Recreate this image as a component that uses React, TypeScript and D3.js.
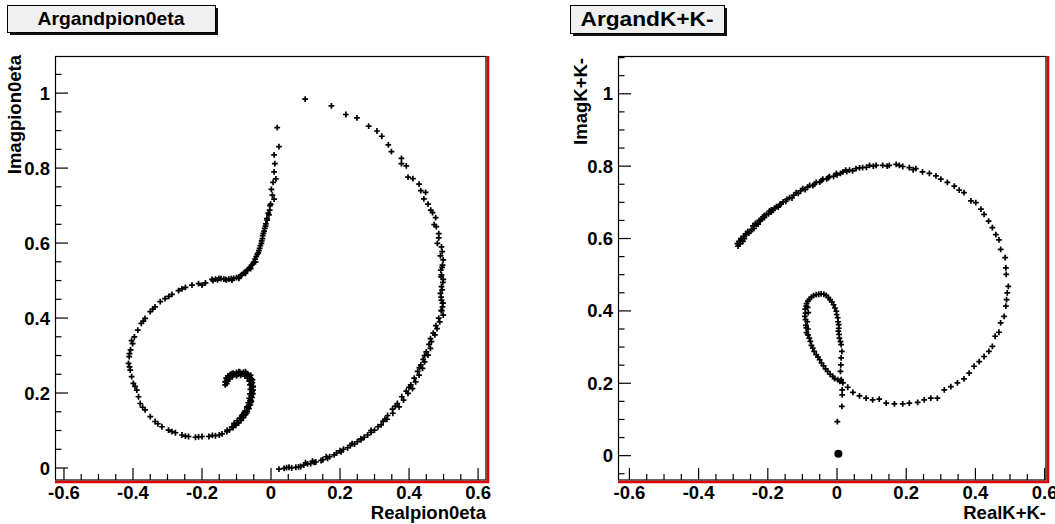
import React from "react";
import * as d3 from "d3";

type Pt = [number, number];

// ---------- Argand pion0 eta (left) ----------
const pionOuterArc: Pt[] = [
  [0.099, 0.984], [0.175, 0.966], [0.217, 0.943], [0.249, 0.934], [0.283, 0.912], [0.307, 0.899],
  [0.321, 0.885], [0.34, 0.862], [0.349, 0.844], [0.378, 0.826], [0.378, 0.812], [0.392, 0.806],
  [0.397, 0.776], [0.411, 0.772], [0.429, 0.757], [0.434, 0.74], [0.448, 0.735], [0.443, 0.718],
  [0.455, 0.704], [0.463, 0.688], [0.468, 0.681], [0.477, 0.668], [0.473, 0.649], [0.479, 0.644],
  [0.486, 0.625], [0.486, 0.614], [0.482, 0.599], [0.494, 0.59], [0.496, 0.577], [0.491, 0.566],
  [0.499, 0.555], [0.497, 0.541], [0.492, 0.528], [0.494, 0.515], [0.499, 0.503], [0.496, 0.535],
  [0.493, 0.51], [0.498, 0.495], [0.494, 0.484], [0.496, 0.475], [0.491, 0.466], [0.493, 0.456],
  [0.494, 0.448], [0.498, 0.44], [0.497, 0.43], [0.495, 0.42], [0.499, 0.408], [0.489, 0.39],
  [0.481, 0.372], [0.475, 0.355], [0.465, 0.337], [0.462, 0.319], [0.455, 0.301], [0.445, 0.283],
  [0.439, 0.266], [0.429, 0.248], [0.419, 0.23], [0.41, 0.212], [0.397, 0.199], [0.384, 0.181],
  [0.371, 0.163], [0.353, 0.146], [0.336, 0.13], [0.319, 0.115], [0.3, 0.101], [0.28, 0.088],
  [0.261, 0.075], [0.242, 0.064], [0.222, 0.054], [0.203, 0.043], [0.183, 0.035], [0.164, 0.026],
  [0.145, 0.02], [0.125, 0.015], [0.106, 0.011], [0.086, 0.004], [0.072, 0.002], [0.052, 0.002],
  [0.038, -0.001], [0.023, -0.003],
];
const pionOuterArcDense: Pt[] = [
  [0.497, 0.44], [0.493, 0.42], [0.486, 0.4], [0.478, 0.38], [0.47, 0.36], [0.462, 0.345],
  [0.458, 0.33], [0.45, 0.31], [0.441, 0.29], [0.434, 0.275], [0.425, 0.258], [0.415, 0.24],
  [0.405, 0.222], [0.392, 0.205], [0.379, 0.19], [0.366, 0.172], [0.352, 0.157], [0.338, 0.14],
  [0.325, 0.125], [0.31, 0.11], [0.29, 0.095], [0.27, 0.082], [0.25, 0.07], [0.23, 0.06],
  [0.21, 0.05], [0.19, 0.04], [0.17, 0.03], [0.15, 0.022], [0.13, 0.016], [0.115, 0.012],
  [0.095, 0.008], [0.08, 0.003], [0.06, 0.0], [0.045, 0.001], [0.445, 0.3], [0.43, 0.268],
  [0.4, 0.215], [0.36, 0.165], [0.33, 0.13], [0.29, 0.1], [0.26, 0.078], [0.235, 0.065],
  [0.2, 0.046], [0.16, 0.03], [0.12, 0.018], [0.1, 0.014],
];
const pionInnerBranch: Pt[] = [
  [0.018, 0.908], [0.023, 0.857], [0.009, 0.835], [0.011, 0.812], [0.009, 0.79], [0.014, 0.771],
  [0.006, 0.762], [0.001, 0.743], [0.004, 0.728], [0.009, 0.717], [-0.001, 0.704], [-0.004, 0.688],
  [-0.006, 0.675], [-0.011, 0.661], [-0.015, 0.651], [-0.018, 0.639], [-0.022, 0.626], [-0.025, 0.612],
  [-0.028, 0.599], [-0.033, 0.586], [-0.037, 0.574], [-0.043, 0.564], [-0.049, 0.55], [-0.056, 0.541],
  [-0.064, 0.532], [-0.074, 0.524], [-0.084, 0.516], [-0.093, 0.51], [-0.108, 0.506], [-0.122, 0.504],
  [-0.137, 0.504], [-0.161, 0.504], [-0.003, 0.7], [-0.008, 0.68], [-0.012, 0.665], [-0.016, 0.645],
  [-0.02, 0.632], [-0.024, 0.62], [-0.027, 0.606], [-0.031, 0.593], [-0.035, 0.58], [-0.04, 0.57],
  [-0.046, 0.557], [-0.052, 0.546], [-0.06, 0.536], [-0.069, 0.528], [-0.079, 0.52], [-0.088, 0.513],
  [-0.1, 0.508], [-0.115, 0.505], [-0.129, 0.502], [-0.145, 0.505], [-0.155, 0.502], [-0.168, 0.5],
  [-0.045, 0.55], [-0.059, 0.532], [-0.074, 0.519], [-0.093, 0.506], [-0.113, 0.501], [-0.132, 0.503],
  [-0.151, 0.506],
];
const pionLeftArc: Pt[] = [
  [-0.171, 0.503], [-0.19, 0.494], [-0.21, 0.492], [-0.229, 0.488], [-0.248, 0.482], [-0.268, 0.473],
  [-0.287, 0.463], [-0.307, 0.452], [-0.321, 0.444], [-0.336, 0.43], [-0.35, 0.417], [-0.365, 0.399],
  [-0.376, 0.386], [-0.386, 0.368], [-0.396, 0.35], [-0.401, 0.332], [-0.407, 0.315], [-0.411, 0.297],
  [-0.413, 0.279], [-0.408, 0.261], [-0.404, 0.244], [-0.399, 0.226], [-0.389, 0.208], [-0.384, 0.19],
  [-0.379, 0.172], [-0.365, 0.155], [-0.35, 0.137], [-0.336, 0.124], [-0.316, 0.11], [-0.297, 0.101],
  [-0.277, 0.094], [-0.258, 0.088], [-0.239, 0.084], [-0.219, 0.082], [-0.2, 0.084], [-0.18, 0.084],
  [-0.161, 0.086], [-0.142, 0.091], [-0.127, 0.101], [-0.113, 0.11], [-0.098, 0.119], [-0.088, 0.132],
  [-0.079, 0.146], [-0.069, 0.163], [-0.059, 0.181], [-0.054, 0.199], [-0.052, 0.217], [-0.054, 0.235],
  [-0.059, 0.248], [-0.074, 0.257], [-0.093, 0.257], [-0.113, 0.252], [-0.127, 0.239], [-0.132, 0.23],
  [-0.2, 0.488], [-0.258, 0.478], [-0.296, 0.458], [-0.343, 0.424], [-0.37, 0.392], [-0.404, 0.34],
  [-0.41, 0.305], [-0.41, 0.27], [-0.394, 0.218], [-0.372, 0.162], [-0.328, 0.118], [-0.287, 0.097],
  [-0.248, 0.085], [-0.21, 0.083], [-0.17, 0.087], [-0.15, 0.088],
];
const pionHook: Pt[] = [
  [-0.132, 0.23], [-0.13, 0.24], [-0.125, 0.246], [-0.118, 0.25], [-0.11, 0.253], [-0.1, 0.255],
  [-0.09, 0.256], [-0.08, 0.255], [-0.07, 0.252], [-0.062, 0.246], [-0.057, 0.238], [-0.054, 0.228],
  [-0.052, 0.218], [-0.052, 0.208], [-0.053, 0.198], [-0.055, 0.188], [-0.057, 0.178], [-0.06, 0.168],
  [-0.064, 0.158], [-0.069, 0.15], [-0.074, 0.142], [-0.08, 0.134], [-0.087, 0.127], [-0.094, 0.12],
  [-0.102, 0.114], [-0.11, 0.108], [-0.12, 0.102], [-0.128, 0.097], [-0.128, 0.225], [-0.122, 0.238],
  [-0.112, 0.243], [-0.1, 0.246], [-0.088, 0.247], [-0.076, 0.245], [-0.068, 0.24], [-0.063, 0.232],
  [-0.061, 0.222], [-0.06, 0.21], [-0.061, 0.198], [-0.063, 0.186], [-0.066, 0.174], [-0.07, 0.162],
  [-0.076, 0.152], [-0.083, 0.142], [-0.09, 0.133], [-0.098, 0.126], [-0.107, 0.119], [-0.125, 0.232],
  [-0.115, 0.247], [-0.095, 0.25], [-0.075, 0.25], [-0.058, 0.232], [-0.056, 0.215], [-0.057, 0.192],
  [-0.06, 0.18], [-0.066, 0.165], [-0.075, 0.148], [-0.085, 0.138], [-0.133, 0.222], [-0.129, 0.233],
  [-0.121, 0.242], [-0.105, 0.251], [-0.085, 0.252], [-0.066, 0.249], [-0.057, 0.224], [-0.055, 0.204],
  [-0.059, 0.174], [-0.071, 0.146],
];

// ---------- Argand K+ K- (right) ----------
const kkUpperArc: Pt[] = [
  [-0.286, 0.579], [-0.276, 0.598], [-0.262, 0.611], [-0.247, 0.625], [-0.233, 0.639], [-0.218, 0.653],
  [-0.204, 0.667], [-0.19, 0.679], [-0.175, 0.688], [-0.156, 0.701], [-0.137, 0.713], [-0.118, 0.727],
  [-0.099, 0.738], [-0.079, 0.747], [-0.06, 0.755], [-0.041, 0.764], [-0.022, 0.771], [-0.002, 0.78],
  [0.017, 0.784], [0.036, 0.789], [0.055, 0.793], [0.074, 0.796], [0.094, 0.802], [0.113, 0.802],
  [0.132, 0.802], [0.151, 0.802], [0.171, 0.805], [0.19, 0.799], [0.209, 0.796], [0.228, 0.793],
  [0.247, 0.784], [0.267, 0.78], [0.286, 0.773], [0.3, 0.764], [0.319, 0.755], [0.339, 0.745],
  [0.353, 0.734], [0.367, 0.727], [0.387, 0.704], [0.401, 0.699], [0.416, 0.681], [0.425, 0.667],
  [0.438, 0.648], [0.449, 0.63], [0.459, 0.611], [0.468, 0.596], [0.473, 0.57], [0.486, 0.547],
  [0.488, 0.519], [0.489, 0.501], [0.495, 0.468], [0.492, 0.45], [0.49, 0.431], [0.488, 0.413],
  [0.483, 0.385], [0.473, 0.367], [0.468, 0.341], [0.457, 0.33], [0.449, 0.302], [0.439, 0.288],
  [0.425, 0.274], [0.411, 0.26], [0.396, 0.247], [0.382, 0.228], [0.367, 0.212], [0.348, 0.201],
  [0.329, 0.191], [0.31, 0.182], [0.29, 0.159], [0.271, 0.159], [0.252, 0.154], [0.233, 0.147],
  [0.209, 0.145], [0.19, 0.143], [0.166, 0.143], [0.142, 0.145], [0.122, 0.156], [0.103, 0.154],
  [0.084, 0.159], [0.065, 0.165], [0.046, 0.175], [0.031, 0.189], [0.017, 0.201],
];
const kkUpperArcDense: Pt[] = [
  [-0.28, 0.585], [-0.272, 0.592], [-0.268, 0.6], [-0.255, 0.615], [-0.25, 0.62], [-0.24, 0.628],
  [-0.228, 0.64], [-0.222, 0.648], [-0.21, 0.658], [-0.198, 0.668], [-0.185, 0.678], [-0.17, 0.687],
  [-0.162, 0.695], [-0.148, 0.703], [-0.13, 0.712], [-0.112, 0.725], [-0.092, 0.735], [-0.07, 0.746],
  [-0.05, 0.756], [-0.03, 0.765], [-0.01, 0.772], [0.01, 0.78], [0.028, 0.785], [0.045, 0.787],
  [0.065, 0.795], [0.085, 0.797], [-0.283, 0.592], [-0.27, 0.606], [-0.258, 0.62], [-0.243, 0.635],
  [-0.225, 0.65], [-0.21, 0.664], [-0.195, 0.676], [-0.18, 0.684], [-0.165, 0.694], [-0.145, 0.708],
  [-0.125, 0.72], [-0.105, 0.732], [-0.085, 0.742], [-0.065, 0.75], [-0.045, 0.76], [-0.025, 0.768],
  [0.0, 0.776], [0.025, 0.789], [0.105, 0.8], [0.145, 0.8], [0.18, 0.802], [0.22, 0.79],
  [-0.288, 0.586], [-0.278, 0.6], [-0.264, 0.613], [-0.236, 0.642], [-0.214, 0.66], [-0.19, 0.673],
];
const kkLoop: Pt[] = [
  [0.002, 0.21], [-0.012, 0.219], [-0.027, 0.233], [-0.039, 0.248], [-0.05, 0.265], [-0.06, 0.279],
  [-0.07, 0.297], [-0.077, 0.316], [-0.084, 0.334], [-0.089, 0.353], [-0.091, 0.376], [-0.091, 0.394],
  [-0.089, 0.413], [-0.084, 0.427], [-0.074, 0.438], [-0.06, 0.445], [-0.046, 0.447], [-0.031, 0.443],
  [-0.02, 0.431], [-0.01, 0.417], [-0.002, 0.399], [0.002, 0.381], [0.005, 0.362], [0.004, 0.344],
  [0.007, 0.325], [0.012, 0.307], [0.014, 0.288], [0.012, 0.27], [0.011, 0.251], [0.01, 0.233],
  [0.012, 0.21], [-0.088, 0.34], [-0.09, 0.36], [-0.093, 0.385], [-0.092, 0.405], [-0.088, 0.42],
  [-0.08, 0.432], [-0.068, 0.442], [-0.053, 0.446], [-0.038, 0.446], [-0.025, 0.437], [-0.015, 0.425],
  [-0.006, 0.408], [-0.001, 0.39], [0.003, 0.37], [0.005, 0.352], [0.006, 0.335], [0.01, 0.315],
  [-0.08, 0.325], [-0.074, 0.305], [-0.066, 0.288], [-0.055, 0.272], [-0.045, 0.256], [-0.033, 0.24],
  [-0.02, 0.225], [-0.007, 0.213], [0.008, 0.205], [-0.085, 0.41], [-0.083, 0.395], [-0.086, 0.37],
  [-0.084, 0.35],
];
const kkTail: Pt[] = [[0.015, 0.182], [0.015, 0.168], [0.014, 0.136], [0.001, 0.094]];
const kkOrigin: Pt[] = [[0.004, 0.005]];

// ---------- axes / labels ----------
const panelTitles = ["Argandpion0eta", "ArgandK+K-"];
const xTitles = ["Realpion0eta", "RealK+K-"];
const yTitles = ["Imagpion0eta", "ImagK+K-"];

const FONT = "'Liberation Sans', Arial, Helvetica, sans-serif";
const fmt = (t: number) => String(Math.round(t * 10) / 10);
const isMajor = (t: number) => Math.abs(t / 0.2 - Math.round(t / 0.2)) < 1e-6;

interface PanelCfg {
  left: number; right: number; top: number; bottom: number;
  xDomain: [number, number]; yDomain: [number, number];
  title: string; titleBox: { x: number; y: number; w: number; h: number; fs: number; tl: number };
  xTitle: string; yTitle: string; yTitleX: number; yTitleEnd: number; yLabelX: number;
  series: Pt[][]; dots: Pt[];
}

const plus = "M-2.9,0H2.9M0,-2.9V2.9";

function Panel({ c }: { c: PanelCfg }) {
  const x = d3.scaleLinear().domain(c.xDomain).range([c.left, c.right]);
  const y = d3.scaleLinear().domain(c.yDomain).range([c.bottom, c.top]);
  const xMajor = x.ticks(6);
  const xMinor = x.ticks(25).filter((t) => !isMajor(t));
  const yMajor = y.ticks(6);
  const yMinor = y.ticks(25).filter((t) => !isMajor(t));
  const tb = c.titleBox;
  return (
    <g>
      {/* title box */}
      <rect x={tb.x + 3} y={tb.y + 3} width={tb.w} height={tb.h} fill="#111" />
      <rect x={tb.x + 0.5} y={tb.y + 0.5} width={tb.w} height={tb.h} fill="#f0f0f0" stroke="#000" strokeWidth={1} />
      <text x={tb.x + tb.w / 2} y={tb.y + tb.h - 7.5} textAnchor="middle" fontFamily={FONT} fontWeight="bold"
        fontSize={tb.fs} textLength={tb.tl} lengthAdjust="spacingAndGlyphs">{c.title}</text>

      {/* frame */}
      <rect x={c.left + 0.5} y={c.top + 0.5} width={c.right - c.left - 0.5} height={c.bottom - c.top - 0.5}
        fill="#fff" stroke="#000" strokeWidth={1.2} />
      <line x1={c.left} x2={c.right + 3} y1={c.bottom + 2} y2={c.bottom + 2} stroke="#e00000" strokeWidth={2.5} />
      <line x1={c.right + 2} x2={c.right + 2} y1={c.top} y2={c.bottom + 3} stroke="#e00000" strokeWidth={2.5} />

      {/* ticks */}
      {xMajor.map((t) => (
        <line key={"xM" + t} x1={x(t)} x2={x(t)} y1={c.bottom} y2={c.bottom - 12} stroke="#000" strokeWidth={1.2} />
      ))}
      {xMinor.map((t) => (
        <line key={"xm" + t} x1={x(t)} x2={x(t)} y1={c.bottom} y2={c.bottom - 6} stroke="#000" strokeWidth={1.2} />
      ))}
      {yMajor.map((t) => (
        <line key={"yM" + t} x1={c.left} x2={c.left + 13} y1={y(t)} y2={y(t)} stroke="#000" strokeWidth={1.2} />
      ))}
      {yMinor.map((t) => (
        <line key={"ym" + t} x1={c.left} x2={c.left + 6.5} y1={y(t)} y2={y(t)} stroke="#000" strokeWidth={1.2} />
      ))}

      {/* tick labels */}
      {xMajor.map((t) => (
        <text key={"xl" + t} x={x(t)} y={c.bottom + 19} textAnchor="middle" fontFamily={FONT} fontWeight="bold"
          fontSize={18.5}>{fmt(t)}</text>
      ))}
      {yMajor.map((t) => (
        <text key={"yl" + t} x={c.yLabelX} y={y(t) + 6.5} textAnchor="end" fontFamily={FONT} fontWeight="bold"
          fontSize={18.5}>{fmt(t)}</text>
      ))}

      {/* axis titles */}
      <text x={c.right} y={c.bottom + 38.5} textAnchor="end" fontFamily={FONT} fontWeight="bold" fontSize={18.5}>
        {c.xTitle}
      </text>
      <text transform={`translate(${c.yTitleX},${c.yTitleEnd}) rotate(-90)`} textAnchor="end" fontFamily={FONT}
        fontWeight="bold" fontSize={18.5}>{c.yTitle}</text>

      {/* markers */}
      {c.series.map((s, si) =>
        s.map((p, i) => (
          <path key={si + "-" + i} d={plus} transform={`translate(${x(p[0])},${y(p[1])})`} stroke="#000"
            strokeWidth={1.7} fill="none" />
        ))
      )}
      {c.dots.map((p, i) => (
        <circle key={"d" + i} cx={x(p[0])} cy={y(p[1])} r={4} fill="#000" />
      ))}
    </g>
  );
}

const leftCfg: PanelCfg = {
  left: 55, right: 486, top: 56, bottom: 480,
  xDomain: [-0.626, 0.623], yDomain: [-0.032, 1.099],
  title: panelTitles[0], titleBox: { x: 7, y: 5, w: 208, h: 27, fs: 19, tl: 147 },
  xTitle: xTitles[0], yTitle: yTitles[0], yTitleX: 20.5, yTitleEnd: 55, yLabelX: 50,
  series: [pionOuterArc, pionOuterArcDense, pionInnerBranch, pionLeftArc, pionHook], dots: [],
};
const rightCfg: PanelCfg = {
  left: 618, right: 1046, top: 56, bottom: 480,
  xDomain: [-0.633, 0.604], yDomain: [-0.0673, 1.1044],
  title: panelTitles[1], titleBox: { x: 570, y: 5, w: 154, h: 28, fs: 20, tl: 133 },
  xTitle: xTitles[1], yTitle: yTitles[1], yTitleX: 586.5, yTitleEnd: 58, yLabelX: 613,
  series: [kkUpperArc, kkUpperArcDense, kkLoop, kkTail], dots: kkOrigin,
};

export default function App() {
  return (
    <svg width={1055} height={524} style={{ position: "absolute", left: 0, top: 0, background: "#fff" }}>
      <rect x={0} y={0} width={1055} height={524} fill="#fff" />
      <Panel c={leftCfg} />
      <Panel c={rightCfg} />
    </svg>
  );
}
